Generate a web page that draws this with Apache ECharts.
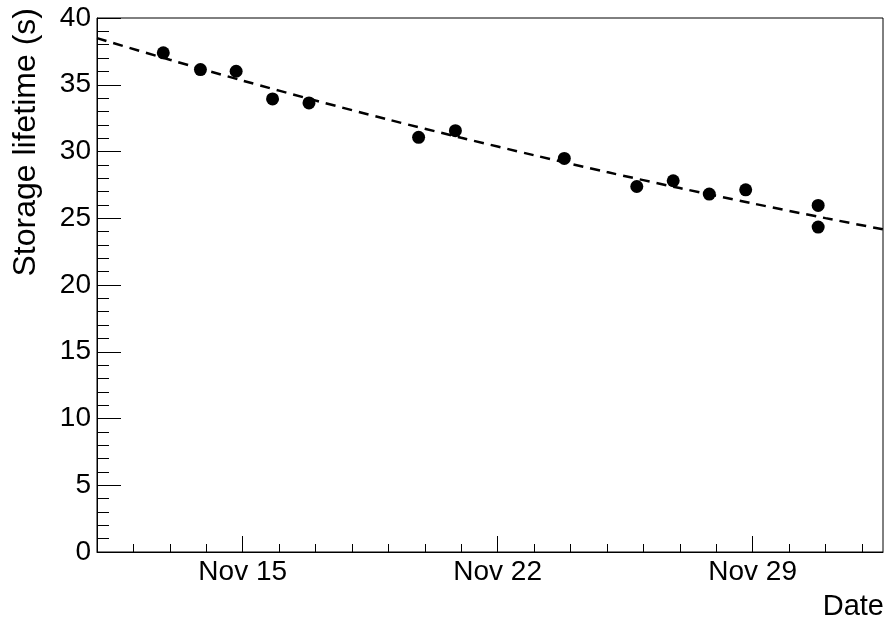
<!DOCTYPE html>
<html>
<head>
<meta charset="utf-8">
<script src="https://cdn.jsdelivr.net/npm/echarts@6/dist/echarts.min.js"></script>
<style>html,body{margin:0;padding:0;background:#fff;}#c{width:889px;height:621px;}</style>
</head>
<body>
<div id="c"></div>
<script>
// Day of November (fractional) for each measurement
const pointDays = [12.82, 13.84, 14.82, 15.82, 16.82, 19.83, 20.84, 23.83, 25.82, 26.82, 27.81, 28.81, 30.80, 30.80];
// Storage lifetime (s)
const lifetimes = [37.39, 36.14, 36.01, 33.94, 33.64, 31.06, 31.56, 29.48, 27.38, 27.81, 26.81, 27.13, 25.96, 24.34];
// Dashed fit curve
const fitDays = [11, 13, 15, 17, 19, 21, 23, 25, 27, 29, 31, 32.58];
const fitValues = [38.49, 36.87, 35.31, 33.82, 32.39, 31.03, 29.72, 28.46, 27.26, 26.11, 25.01, 24.17];
// Axis labels
const dateTicks = [15, 22, 29];
const dateLabels = ['Nov 15', 'Nov 22', 'Nov 29'];
const dayTicks = [12, 13, 14, 15, 16, 17, 18, 19, 20, 21, 22, 23, 24, 25, 26, 27, 28, 29, 30, 31, 32];
const xMin = 11, xMax = 32.58;

const FONT = '"Liberation Sans", Arial, sans-serif';
const chart = echarts.init(document.getElementById('c'), null, {renderer: 'canvas'});
const points = pointDays.map((d, i) => [d, lifetimes[i]]);
const fit = fitDays.map((d, i) => [d, fitValues[i]]);

chart.setOption({
  animation: false,
  backgroundColor: '#fff',
  grid: {left: 97, top: 18, right: 6, bottom: 69, show: true, borderColor: '#000', borderWidth: 1, backgroundColor: 'transparent'},
  xAxis: [{
    type: 'value', min: xMin, max: xMax,
    axisLine: {show: true, lineStyle: {color: '#000', width: 1}},
    axisTick: {show: true, inside: true, length: 8, customValues: dayTicks, lineStyle: {color: '#000', width: 1}},
    axisLabel: {show: true, customValues: dateTicks, margin: 6, fontSize: 28, color: '#000', fontFamily: FONT,
      formatter: v => dateLabels[dateTicks.indexOf(Math.round(v))] || ''},
    splitLine: {show: false}
  }, {
    type: 'value', min: xMin, max: xMax, position: 'bottom',
    axisLine: {show: false},
    axisTick: {show: true, inside: true, length: 16, customValues: dateTicks, lineStyle: {color: '#000', width: 1}},
    axisLabel: {show: false},
    splitLine: {show: false}
  }],
  yAxis: {
    type: 'value', min: 0, max: 40, interval: 5,
    axisLine: {show: true, lineStyle: {color: '#000', width: 1}},
    axisTick: {show: true, inside: true, length: 24, lineStyle: {color: '#000', width: 1}},
    minorTick: {show: true, splitNumber: 5, length: 12, lineStyle: {color: '#000', width: 1}},
    axisLabel: {margin: 6, fontSize: 28, color: '#000', fontFamily: FONT},
    splitLine: {show: false}, minorSplitLine: {show: false}
  },
  series: [{
    type: 'line', xAxisIndex: 0, data: fit, smooth: 0.3, showSymbol: false, symbol: 'none',
    lineStyle: {color: '#000', width: 2.5, type: [10, 7]}, clip: true, z: 2
  }, {
    type: 'scatter', xAxisIndex: 0, data: points, symbol: 'circle', symbolSize: 13,
    itemStyle: {color: '#000', opacity: 1}, z: 3
  }],
  graphic: [{
    type: 'text', x: 884, y: 607,
    style: {text: 'Date', fontSize: 29, fontFamily: FONT, fill: '#000', align: 'right', verticalAlign: 'middle'}
  }, {
    type: 'text', x: 26, y: 8, rotation: Math.PI / 2,
    style: {text: 'Storage lifetime (s)', fontSize: 32, fontFamily: FONT, fill: '#000', align: 'right', verticalAlign: 'middle'}
  }]
});
</script>
</body>
</html>
